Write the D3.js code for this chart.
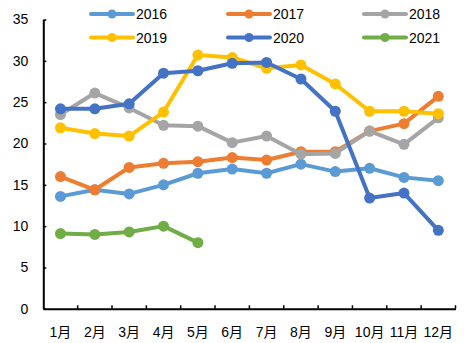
<!DOCTYPE html>
<html><head><meta charset="utf-8">
<script src="https://cdn.jsdelivr.net/npm/d3@7"></script>
<style>body{margin:0;background:#fff;} svg{display:block;}</style>
</head><body>
<svg id="c" width="476" height="343"></svg>
<script>
const months = ["1月","2月","3月","4月","5月","6月","7月","8月","9月","10月","11月","12月"];
const s2016 = [13.6,14.4,13.9,15.0,16.4,16.9,16.4,17.5,16.6,17.0,15.9,15.5];
const s2017 = [16.0,14.4,17.1,17.6,17.8,18.3,18.0,19.0,19.0,21.5,22.4,25.7];
const s2018 = [23.5,26.1,24.3,22.2,22.1,20.1,20.9,18.7,18.8,21.5,19.9,23.1];
const s2019 = [21.9,21.2,20.9,23.8,30.7,30.4,29.1,29.5,27.2,23.9,23.9,23.6];
const s2020 = [24.2,24.2,24.8,28.5,28.8,29.7,29.8,27.8,23.9,13.4,14.0,9.5];
const s2021 = [9.1,9.0,9.3,10.0,8.0];
const seriesNames = ["2016","2017","2018","2019","2020","2021"];
const yTicks = [0,5,10,15,20,25,30,35];

const colors = {"2016":"#5B9BD5","2017":"#ED7D31","2018":"#A5A5A5","2019":"#FFC000","2020":"#4472C4","2021":"#70AD47"};
const series = [
  {name:"2016", values:s2016},{name:"2017", values:s2017},{name:"2018", values:s2018},
  {name:"2019", values:s2019},{name:"2020", values:s2020},{name:"2021", values:s2021}
];

const svg = d3.select("#c");
const font = "'Liberation Sans', Arial, 'Noto Sans CJK SC', sans-serif";
const pLeft = 43.3, pRight = 455.5, pTop = 19.5, pBottom = 308.8;

const x = d3.scaleBand().domain(months).range([pLeft, pRight]);
const y = d3.scaleLinear().domain([0,35]).range([pBottom, pTop]);

// axes
const yAxis = svg.append("g").attr("transform", `translate(${pLeft},0)`)
  .call(d3.axisLeft(y).tickValues(yTicks).tickSizeInner(-3).tickSizeOuter(0).tickPadding(15));
const xAxis = svg.append("g").attr("transform", `translate(0,${pBottom})`)
  .call(d3.axisBottom(x).tickSizeInner(0).tickSizeOuter(0).tickPadding(18));
[yAxis, xAxis].forEach(g => {
  g.select(".domain").attr("stroke","#000").attr("stroke-width",2);
  g.selectAll("line").attr("stroke","#000").attr("stroke-width",1.5);
  g.selectAll("text").attr("font-family", font).attr("font-size", 14).attr("fill","#000");
});
// x ticks at band boundaries, pointing up
const bounds = months.map(m => x(m)).concat([x(months[months.length-1]) + x.bandwidth()]).slice(1);
svg.append("g").selectAll("line").data(bounds).join("line")
  .attr("x1", d=>d).attr("x2", d=>d).attr("y1", pBottom).attr("y2", pBottom-3.5)
  .attr("stroke","#000").attr("stroke-width",1.5);

const cx = (i) => x(months[i]) + x.bandwidth()/2;
const line = d3.line().x((d,i)=>cx(i)).y(d=>y(d));

series.forEach(s => {
  const g = svg.append("g");
  g.append("path").datum(s.values).attr("d", line)
    .attr("fill","none").attr("stroke", colors[s.name]).attr("stroke-width", 4)
    .attr("stroke-linejoin","round");
  g.selectAll("circle").data(s.values).join("circle")
    .attr("cx",(d,i)=>cx(i)).attr("cy", d=>y(d)).attr("r", 5.5)
    .attr("fill", colors[s.name]);
});

// legend
const legX = [91, 228, 364], legY = [14, 37.5];
seriesNames.forEach((n, i) => {
  const lx = legX[i % 3], ly = legY[Math.floor(i / 3)];
  const g = svg.append("g");
  g.append("line").attr("x1", lx).attr("x2", lx+42).attr("y1", ly).attr("y2", ly)
    .attr("stroke", colors[n]).attr("stroke-width", 4).attr("stroke-linecap","round");
  g.append("circle").attr("cx", lx+21).attr("cy", ly).attr("r", 4.5).attr("fill", colors[n]);
  g.append("text").attr("x", lx+45).attr("y", ly+5).text(n)
    .attr("font-family", font).attr("font-size", 14).attr("fill","#000");
});
</script>
</body></html>
